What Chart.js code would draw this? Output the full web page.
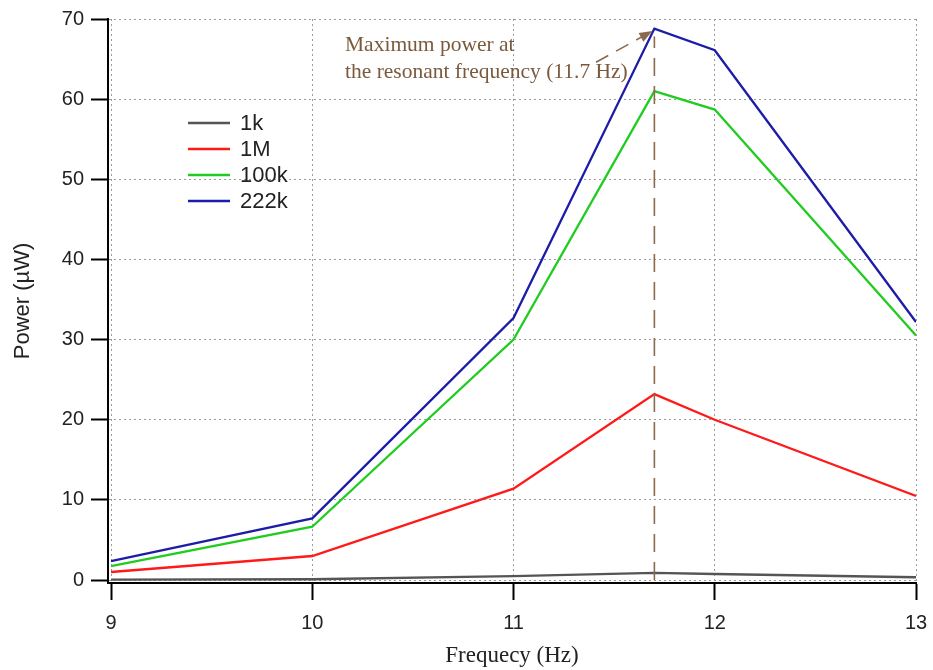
<!DOCTYPE html>
<html>
<head>
<meta charset="utf-8">
<script src="https://cdn.jsdelivr.net/npm/chart.js@4/dist/chart.umd.min.js"></script>
<style>
html,body{margin:0;padding:0;background:#fff;}
#wrap{width:933px;height:670px;position:relative;}
</style>
</head>
<body>
<div id="wrap"><canvas id="c" width="933" height="670"></canvas></div>
<script>
const frequencies = [9, 10, 11, 11.7, 12, 13];
const seriesLabels = ['1k', '1M', '100k', '222k'];
const power1k   = [0.05, 0.1, 0.5, 0.9, 0.75, 0.35];
const power1M   = [1.0, 3.0, 11.4, 23.2, 20.0, 10.5];
const power100k = [1.75, 6.65, 30.0, 61.0, 58.7, 30.5];
const power222k = [2.37, 7.7, 32.7, 68.8, 66.1, 32.2];
const yTicks = [0, 10, 20, 30, 40, 50, 60, 70];
const xTicks = [9, 10, 11, 12, 13];
const resonantFreq = 11.7;
const annotationLines = ['Maximum power at', 'the resonant frequency (11.7 Hz)'];

const colors = ['#555555', '#ff1a1a', '#1fcc1f', '#1c1ca8'];
const seriesValues = [power1k, power1M, power100k, power222k];

const datasets = seriesLabels.map((lab, i) => ({
  label: lab,
  data: frequencies.map((f, j) => ({x: f, y: seriesValues[i][j]})),
  borderColor: colors[i],
  backgroundColor: colors[i],
  borderWidth: 2.3,
  pointRadius: 0,
  tension: 0,
  fill: false
}));

const brown = '#8a6a4a';

const customPlugin = {
  id: 'custom',
  afterDatasetsDraw(chart) {
    const ctx = chart.ctx;
    const xs = chart.scales.x, ys = chart.scales.y;
    // legend
    ctx.save();
    ctx.font = '22px "Liberation Sans", Arial, sans-serif';
    ctx.textBaseline = 'middle';
    chart.data.datasets.forEach((ds, i) => {
      const y = 123 + i * 26;
      ctx.strokeStyle = ds.borderColor;
      ctx.lineWidth = 2.3;
      ctx.beginPath();
      ctx.moveTo(188, y);
      ctx.lineTo(230, y);
      ctx.stroke();
      ctx.fillStyle = '#222';
      ctx.fillText(ds.label, 240, y + 1);
    });
    ctx.restore();

    // annotation dashed vertical line
    const peak = Math.max(...power222k);
    const px = xs.getPixelForValue(resonantFreq);
    ctx.save();
    ctx.strokeStyle = brown;
    ctx.lineWidth = 1.6;
    ctx.setLineDash([18, 10]);
    ctx.beginPath();
    ctx.moveTo(px, ys.getPixelForValue(0));
    ctx.lineTo(px, ys.getPixelForValue(peak) + 8);
    ctx.stroke();
    // arrow
    const x0 = xs.getPixelForValue(11.41), y0 = ys.getPixelForValue(64.6);
    const x1 = xs.getPixelForValue(11.69), y1 = ys.getPixelForValue(68.5);
    ctx.setLineDash([14, 9]);
    ctx.beginPath();
    ctx.moveTo(x0, y0);
    const ang = Math.atan2(y1 - y0, x1 - x0);
    ctx.lineTo(x1 - 10 * Math.cos(ang), y1 - 10 * Math.sin(ang));
    ctx.stroke();
    ctx.setLineDash([]);
    ctx.fillStyle = brown;
    ctx.beginPath();
    ctx.moveTo(x1, y1);
    ctx.lineTo(x1 - 13 * Math.cos(ang) + 5 * Math.sin(ang), y1 - 13 * Math.sin(ang) - 5 * Math.cos(ang));
    ctx.lineTo(x1 - 13 * Math.cos(ang) - 5 * Math.sin(ang), y1 - 13 * Math.sin(ang) + 5 * Math.cos(ang));
    ctx.closePath();
    ctx.fill();
    // text
    ctx.fillStyle = '#7a5a3c';
    ctx.font = '21.5px "Liberation Serif", "Times New Roman", serif';
    ctx.textBaseline = 'alphabetic';
    ctx.fillText(annotationLines[0], 345, 51);
    ctx.fillText(annotationLines[1], 345, 78);
    ctx.restore();
  }
};

new Chart(document.getElementById('c'), {
  type: 'line',
  data: { datasets },
  options: {
    responsive: false,
    animation: false,
    layout: { padding: { left: 0, top: 19, right: 0, bottom: 0 } },
    plugins: { legend: { display: false }, tooltip: { enabled: false } },
    scales: {
      x: {
        type: 'linear',
        min: 8.985,
        max: 13,
        afterFit(s) { s.height = 87; s.paddingRight = 17; s.paddingLeft = 0; },
        afterBuildTicks(s) { s.ticks = xTicks.map(v => ({value: v})); },
        ticks: { font: { family: '"Liberation Sans", Arial, sans-serif', size: 20 }, color: '#222', padding: 11, maxRotation: 0 },
        grid: { color: '#9a9a9a', lineWidth: 1, drawTicks: true, tickLength: 17, tickColor: '#000', tickWidth: 2 },
        border: { display: true, color: '#000', width: 2, dash: [2, 3] },
        title: { display: true, text: 'Frequecy (Hz)', font: { family: '"Liberation Serif", "Times New Roman", serif', size: 23 }, color: '#222', padding: { top: 6, bottom: 0 } }
      },
      y: {
        type: 'linear',
        min: -0.37,
        max: 70,
        afterFit(s) { s.width = 108; },
        afterBuildTicks(s) { s.ticks = yTicks.map(v => ({value: v})); },
        ticks: { font: { family: '"Liberation Sans", Arial, sans-serif', size: 20 }, color: '#222', padding: 7 },
        grid: { color: '#9a9a9a', lineWidth: 1, drawTicks: true, tickLength: 17, tickColor: '#000', tickWidth: 2 },
        border: { display: true, color: '#000', width: 2, dash: [2, 3] },
        title: { display: true, text: 'Power (µW)', font: { family: '"Liberation Sans", Arial, sans-serif', size: 22 }, color: '#222', padding: { top: 10, bottom: 0 } }
      }
    }
  },
  plugins: [customPlugin]
});
</script>
</body>
</html>
